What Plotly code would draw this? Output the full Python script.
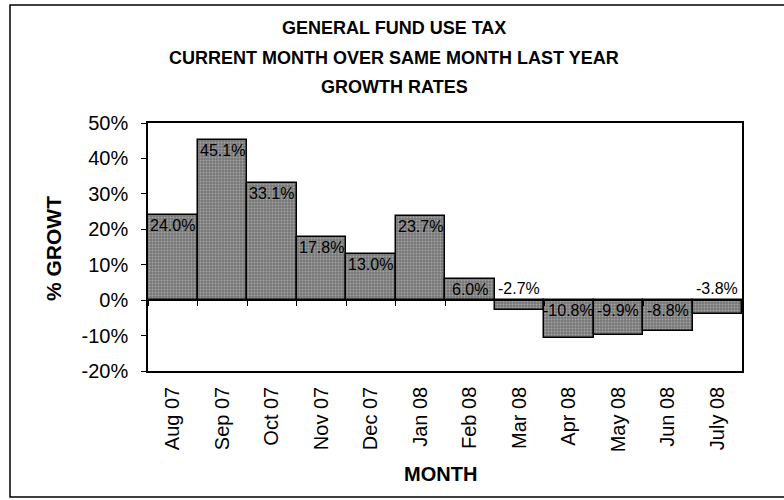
import plotly.graph_objects as go

months = ["Aug 07", "Sep 07", "Oct 07", "Nov 07", "Dec 07", "Jan 08",
          "Feb 08", "Mar 08", "Apr 08", "May 08", "Jun 08", "July 08"]
growth = [24.0, 45.1, 33.1, 17.8, 13.0, 23.7, 6.0, -2.7, -10.8, -9.9, -8.8, -3.8]
title_lines = ["GENERAL FUND USE TAX",
               "CURRENT MONTH OVER SAME MONTH LAST YEAR",
               "GROWTH RATES"]
y_ticks = [-20, -10, 0, 10, 20, 30, 40, 50]

W, H = 784, 500
L, R, T, B = 148, 42, 123, 129
pw, ph = W - L - R, H - T - B
FONT = "Liberation Sans, Arial"


def px_x(x):
    return (x - L) / pw


def px_y(y):
    return (H - B - y) / ph


fig = go.Figure()
fig.add_trace(go.Bar(
    x=list(range(len(months))), y=growth,
    marker=dict(color="#888888", line=dict(color="#000", width=1.5),
                pattern=dict(shape=".", fgcolor="#d0d0d0", bgcolor="#767676",
                             size=3, solidity=0.35)),
    showlegend=False, hoverinfo="skip"))

ann = []
for i, v in enumerate(growth):
    if v > 0:
        yv, anc, sh = v, "top", 0
    elif abs(v) < 5:
        yv, anc, sh = 0, "bottom", 1
    else:
        yv, anc, sh = 0, "top", 0
    ann.append(dict(x=i, y=yv, xref="x", yref="y", text=f"{v:.1f}%",
                    showarrow=False, yanchor=anc, yshift=sh,
                    font=dict(family=FONT, size=16, color="#000")))

for t, py in zip(title_lines, [28, 58, 87]):
    ann.append(dict(x=px_x(394), y=px_y(py), xref="paper", yref="paper",
                    text=f"<b>{t}</b>", showarrow=False,
                    xanchor="center", yanchor="middle",
                    font=dict(family=FONT, size=18, color="#000")))

ann.append(dict(x=px_x(53), y=px_y(249), xref="paper", yref="paper",
                text="<b>% GROWT</b>", textangle=-90, showarrow=False,
                xanchor="center", yanchor="middle",
                font=dict(family=FONT, size=21, color="#000")))
ann.append(dict(x=px_x(440), y=px_y(474), xref="paper", yref="paper",
                text="<b>MONTH</b>", showarrow=False,
                xanchor="center", yanchor="middle",
                font=dict(family=FONT, size=20, color="#000")))

fig.update_layout(
    width=W, height=H,
    margin=dict(l=L, r=R, t=T, b=B, pad=0),
    paper_bgcolor="white", plot_bgcolor="white",
    bargap=0,
    annotations=ann,
    font=dict(family=FONT, color="#000"),
    xaxis=dict(tickmode="array", tickvals=list(range(len(months))), ticktext=months,
               tickangle=-90, range=[-0.5, len(months) - 0.5],
               showline=True, mirror=True, linecolor="#000", linewidth=1.5,
               ticks="", showgrid=False, zeroline=False,
               tickfont=dict(size=20), ticklabelstandoff=6),
    xaxis2=dict(overlaying="x", anchor="free",
                position=(0 - y_ticks[0]) / (y_ticks[-1] - y_ticks[0]),
                range=[-0.5, len(months) - 0.5],
                tickmode="array", tickvals=[i - 0.5 for i in range(len(months) + 1)],
                ticks="outside", ticklen=5, tickcolor="#000", tickwidth=1,
                showticklabels=False, showline=True, linecolor="#000", linewidth=1.2,
                showgrid=False, zeroline=False),
    yaxis=dict(range=[y_ticks[0], y_ticks[-1]], tickvals=y_ticks,
               ticktext=[f"{v}%" for v in y_ticks],
               ticks="outside", ticklen=5, tickcolor="#000",
               showline=True, mirror=True, linecolor="#000", linewidth=1.5,
               showgrid=False, zeroline=False, tickfont=dict(size=20),
               ticklabelstandoff=9),
    shapes=[dict(type="rect", xref="paper", yref="paper",
                 x0=px_x(10), x1=px_x(792),
                 y0=px_y(497), y1=px_y(5),
                 line=dict(color="#000", width=1.5), fillcolor="rgba(0,0,0,0)")],
)
fig.add_trace(go.Scatter(x=[None], y=[None], xaxis="x2", showlegend=False,
                         hoverinfo="skip"))

fig.write_html("out.html", config={"displayModeBar": False},
               post_script="document.body.style.margin='0';document.body.style.overflow='hidden';")
